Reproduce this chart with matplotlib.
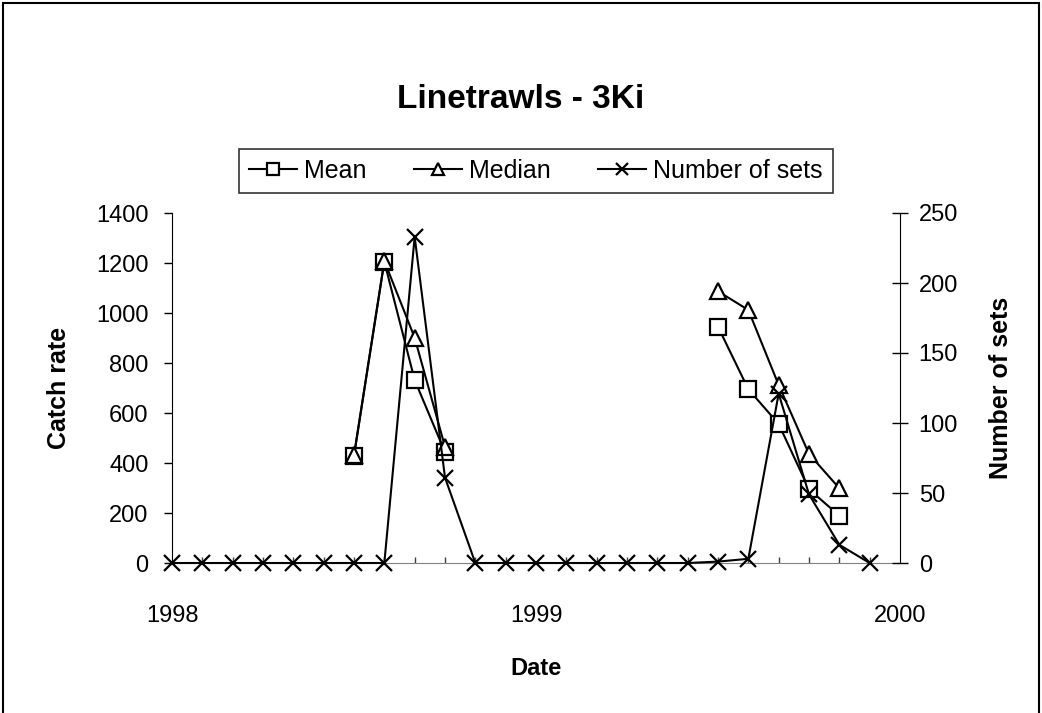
import matplotlib.pyplot as plt
import numpy as np
from matplotlib.patches import Rectangle
from matplotlib.ticker import FixedLocator

plt.rcParams['font.family'] = ['Liberation Sans', 'DejaVu Sans']

# monthly index, Jan 1998 .. Dec 1999
months = np.arange(24)
dates = 1998 + months / 12.0

nan = np.nan
mean_rate = [nan, nan, nan, nan, nan, nan, 428, 1205, 732, 443, nan, nan,
             nan, nan, nan, nan, nan, nan, 945, 695, 556, 295, 189, nan]
median_rate = [nan, nan, nan, nan, nan, nan, 432, 1208, 901, 465, nan, nan,
               nan, nan, nan, nan, nan, nan, 1087, 1012, 712, 436, 299, nan]
n_sets = [0, 0, 0, 0, 0, 0, 0, 0, 233, 61, 0, 0,
          0, 0, 0, 0, 0, 0, 1, 3, 121, 49, 13, 0]

year_ticks = [1998, 1999, 2000]

fig = plt.figure(figsize=(10.42, 7.13), dpi=100)
ax = fig.add_axes([172 / 1042, 1 - 563 / 713, 728 / 1042, 350 / 713])
ax2 = ax.twinx()

style = dict(color='black', lw=1.5, markerfacecolor='white',
             markeredgecolor='black', markeredgewidth=1.6, clip_on=False)
l1, = ax.plot(dates, mean_rate, marker='s', ms=11, label='Mean', **style)
l2, = ax.plot(dates, median_rate, marker='^', ms=11, label='Median', **style)
l3, = ax2.plot(dates, n_sets, marker='x', ms=11, label='Number of sets', **style)

ax.set_xlim(1998, 2000)
ax.set_ylim(0, 1400)
ax2.set_ylim(0, 250)
ax.set_yticks(np.arange(0, 1401, 200))
ax2.set_yticks(np.arange(0, 251, 50))
ax.set_xticks(year_ticks)
ax.set_xticklabels([str(y) for y in year_ticks])
ax.xaxis.set_minor_locator(FixedLocator(dates))

for a in (ax, ax2):
    a.spines['top'].set_visible(False)
    a.patch.set_visible(False)
ax.spines['right'].set_visible(False)
ax.spines['left'].set_color('black')
ax.spines['bottom'].set_color('#808080')
ax2.spines['left'].set_visible(False)
ax2.spines['bottom'].set_visible(False)
ax2.spines['right'].set_color('black')

ax.tick_params(axis='y', direction='out', length=6, width=1, pad=11, labelsize=17)
ax2.tick_params(axis='y', direction='inout', length=11, width=1, pad=8, labelsize=17)
ax.tick_params(axis='x', which='major', direction='in', length=0, pad=30, labelsize=17)
ax.tick_params(axis='x', which='minor', direction='in', length=4, width=1, color='#404040')

ax.set_ylabel('Catch rate', fontsize=18, fontweight='bold', labelpad=18)
ax2.set_ylabel('Number of sets', fontsize=18, fontweight='bold', labelpad=22)
ax.set_xlabel('Date', fontsize=17, fontweight='bold', labelpad=22)

fig.text(0.5, 1 - 100 / 713, 'Linetrawls - 3Ki', ha='center', va='center',
         fontsize=24, fontweight='bold')

leg = fig.legend(handles=[l1, l2, l3], loc='center', ncol=3,
                 bbox_to_anchor=(536 / 1042, 1 - 171 / 713), fontsize=18,
                 frameon=True, fancybox=False, handlelength=1.9,
                 handletextpad=0.3, columnspacing=1.9, borderpad=0.4,
                 borderaxespad=0)
leg.get_frame().set_edgecolor('black')
leg.get_frame().set_linewidth(1.2)
for h in leg.legend_handles:
    h.set_markersize(9)

# chart frame
fig.patches.append(Rectangle((3 / 1042, -0.01), 1036 / 1042, 1 - 3 / 713 + 0.01,
                             transform=fig.transFigure, fill=False,
                             edgecolor='black', lw=1.5))

fig.savefig('out.png', dpi=100)
